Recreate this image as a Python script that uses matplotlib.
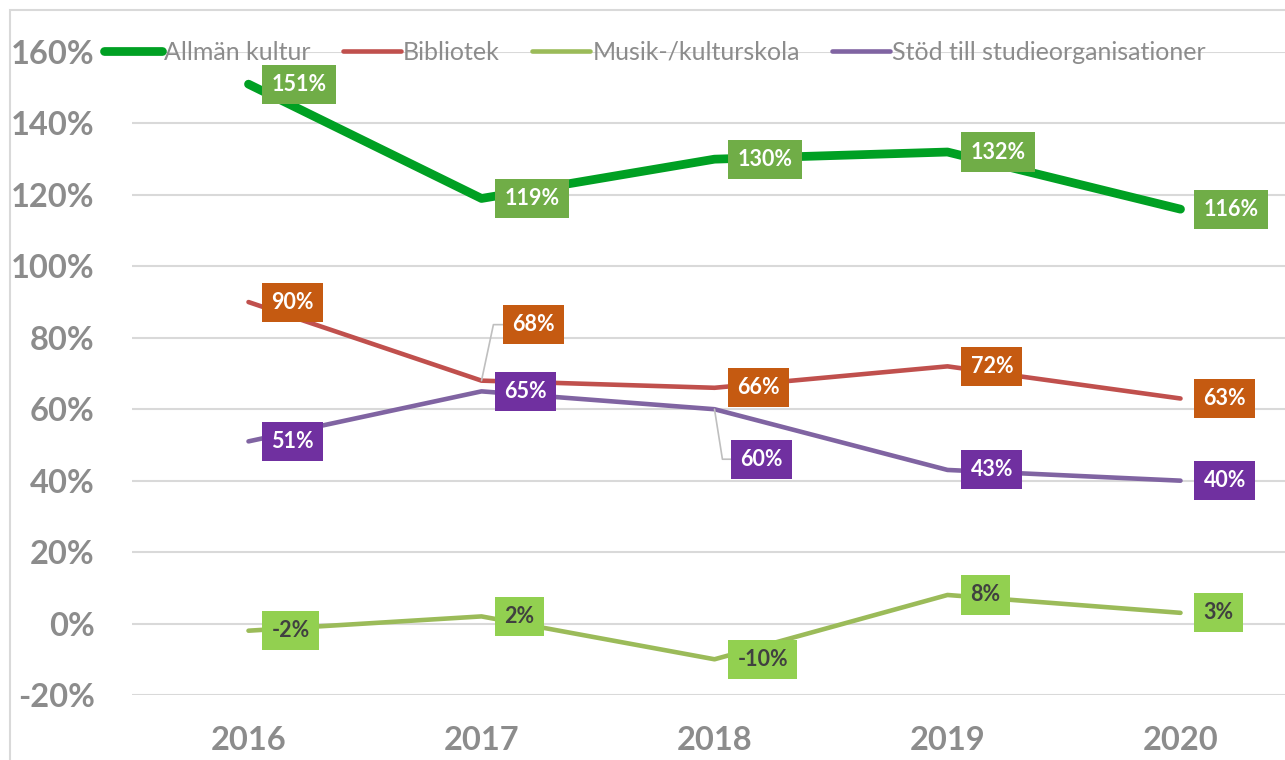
import matplotlib.pyplot as plt
from matplotlib.patches import Rectangle

years = ["2016", "2017", "2018", "2019", "2020"]
allman = [151, 119, 130, 132, 116]
bibliotek = [90, 68, 66, 72, 63]
musik = [-2, 2, -10, 8, 3]
stod = [51, 65, 60, 43, 40]
names = ["Allmän kultur", "Bibliotek", "Musik-/kulturskola", "Stöd till studieorganisationer"]

plt.rcParams['font.family'] = ['Lato', 'DejaVu Sans']

fig = plt.figure(figsize=(12.85, 7.6), dpi=100)
ax = fig.add_axes([132 / 1285, 65 / 760, 1165 / 1285, 643 / 760])

series = [
    (allman, '#00A023', 6.3, '#70AD47', 'white'),
    (bibliotek, '#C0504D', 3.3, '#C55A11', 'white'),
    (musik, '#9BBB59', 3.3, '#92D050', '#404040'),
    (stod, '#8064A2', 3.3, '#7030A0', 'white'),
]
x = list(range(len(years)))

# labels moved away from the point, with a leader line (series, index) -> offset px, leader angle
moved = {(1, 1): (31, 56, 78), (3, 2): (26, -50, -81)}

for si, (vals, lc, lw, bg, tc) in enumerate(series):
    ax.plot(x, vals, color=lc, lw=lw, solid_capstyle='round', label=names[si], zorder=3)
    for i, v in enumerate(vals):
        dx, dy, ang = moved.get((si, i), (23, 0, None))
        kw = {}
        if ang is not None:
            kw['arrowprops'] = dict(arrowstyle='-', color='#BFBFBF', lw=1.2, shrinkA=0, shrinkB=0,
                                    connectionstyle='angle,angleA=0,angleB=%d,rad=0' % ang)
        ax.annotate(f"{v}%", (i, v), xytext=(dx, dy), textcoords='offset pixels',
                    ha='left', va='center', fontsize=15.5, fontweight='bold', color=tc,
                    bbox=dict(boxstyle='square,pad=0.42', fc=bg, ec='none'), zorder=5, **kw)

ax.set_xlim(-0.5, 4.5)
ax.set_ylim(-20, 160)
ax.set_yticks(range(-20, 161, 20))
ax.set_yticklabels([f"{t}%" for t in range(-20, 161, 20)])
ax.set_xticks(x)
ax.set_xticklabels(years)
ax.tick_params(length=0, labelsize=23.5, labelcolor='#8C8C8C')
ax.tick_params(axis='y', pad=27)
ax.tick_params(axis='x', pad=22)
for lab in ax.get_xticklabels() + ax.get_yticklabels():
    lab.set_fontweight('bold')
for s in ax.spines.values():
    s.set_visible(False)
ax.grid(axis='y', color='#D9D9D9', lw=1.5, zorder=0)
ax.set_axisbelow(True)

leg = ax.legend(loc='center', bbox_to_anchor=(655 / 1285, 708 / 760), bbox_transform=fig.transFigure,
                ncol=4, frameon=False, fontsize=18, handlelength=2.3, handletextpad=0.1,
                columnspacing=1.3, labelcolor='#8C8C8C')

fig.patches.append(Rectangle((10 / 1285, -0.1), 2, 750 / 760 + 0.1, transform=fig.transFigure,
                             fill=False, ec='#D9D9D9', lw=1.5))

fig.savefig('out.png', dpi=100)
